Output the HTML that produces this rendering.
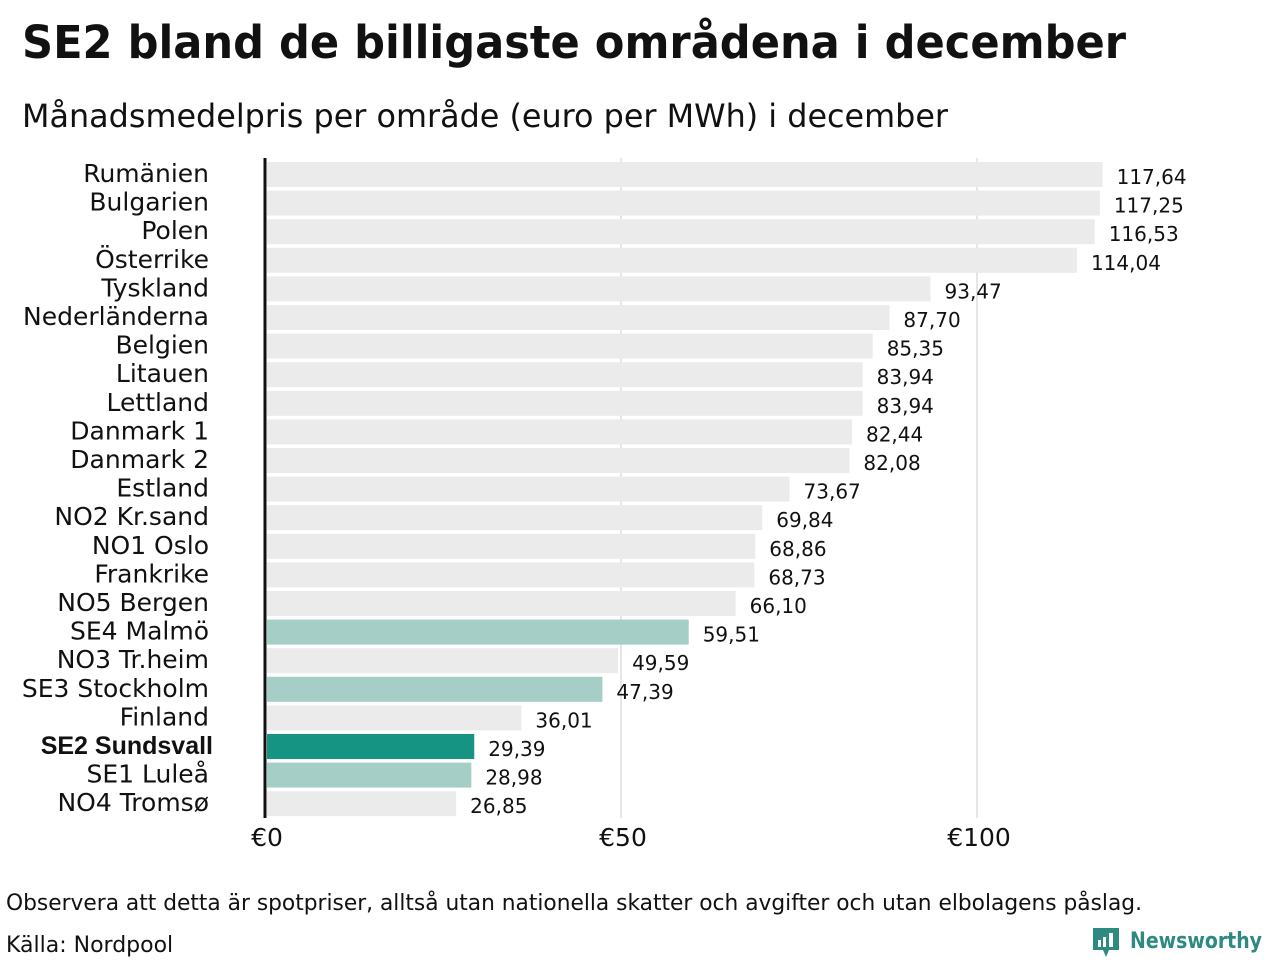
<!DOCTYPE html>
<html><head><meta charset="utf-8"><style>
body{margin:0;background:#fff;width:1280px;height:960px;overflow:hidden;font-family:"DejaVu Sans","Liberation Sans",sans-serif;}
</style></head><body>
<svg width="1280" height="960" xmlns="http://www.w3.org/2000/svg">
<text x="22" y="58" font-size="45" font-weight="bold" fill="#111" textLength="1104" lengthAdjust="spacingAndGlyphs" font-family="DejaVu Sans, sans-serif">SE2 bland de billigaste områdena i december</text>
<text x="22" y="127" font-size="32" fill="#111" textLength="926" lengthAdjust="spacingAndGlyphs">Månadsmedelpris per område (euro per MWh) i december</text>
<g id="grid"></g>
<g id="bars"></g>
<line x1="265" y1="158" x2="265" y2="818" stroke="#111" stroke-width="3"/>
<g id="ticks"></g>
<text x="6" y="910" font-size="22" fill="#111" textLength="1136" lengthAdjust="spacingAndGlyphs">Observera att detta är spotpriser, alltså utan nationella skatter och avgifter och utan elbolagens påslag.</text>
<text x="6" y="952" font-size="22" fill="#111">Källa: Nordpool</text>
<g>
<path d="M1093 928 h26 v22 h-10 l-3 7 l-3 -7 h-10 z" fill="#2e8a80"/>
<rect x="1098" y="940" width="3" height="7" fill="#fff"/><rect x="1103" y="937" width="3" height="10" fill="#fff"/><rect x="1109" y="933" width="4" height="14" fill="#fff"/>
<text x="1130" y="948" font-size="22" font-weight="bold" fill="#2e8a80" textLength="132" lengthAdjust="spacingAndGlyphs">Newsworthy</text>
</g>
</svg>
<script>
const categories=["Rumänien","Bulgarien","Polen","Österrike","Tyskland","Nederländerna","Belgien","Litauen","Lettland","Danmark 1","Danmark 2","Estland","NO2 Kr.sand","NO1 Oslo","Frankrike","NO5 Bergen","SE4 Malmö","NO3 Tr.heim","SE3 Stockholm","Finland","SE2 Sundsvall","SE1 Luleå","NO4 Tromsø"];
const values=[117.64,117.25,116.53,114.04,93.47,87.70,85.35,83.94,83.94,82.44,82.08,73.67,69.84,68.86,68.73,66.10,59.51,49.59,47.39,36.01,29.39,28.98,26.85];
const tickValues=[0,50,100];
const tickLabels=["€0","€50","€100"];
const NS="http://www.w3.org/2000/svg";
const x=v=>265+v*7.12;
const y=i=>162+i*28.6;
function mk(t,a,p){const e=document.createElementNS(NS,t);for(const k in a)e.setAttribute(k,a[k]);p.appendChild(e);return e;}
const grid=document.getElementById('grid'),bars=document.getElementById('bars'),ticks=document.getElementById('ticks');
tickValues.forEach((v,i)=>{
 if(v>0){const g=mk('line',{x1:x(v),x2:x(v),y1:158,y2:818,stroke:'#ccc','stroke-width':1},grid);
 
 }
 const t=mk('text',{x:x(v)+2,y:846,'font-size':25,'text-anchor':'middle',fill:'#111'},ticks);t.textContent=tickLabels[i];
 
 
});
categories.forEach((c,i)=>{
 const se=c.startsWith('SE'),main=c==='SE2 Sundsvall';
 const r=mk('rect',{x:267,y:y(i),width:x(values[i])-267,height:25,fill:main?'#159484':se?'#a5cfc6':'#ebebeb'},bars);
 
 
 const l=mk('text',{x:main?213:209,y:y(i)+20,'font-size':main?25:25,'text-anchor':'end',fill:'#111','font-weight':main?'bold':'normal','font-family':main?'Liberation Sans, sans-serif':'DejaVu Sans, sans-serif'},bars);
 l.textContent=c;
 
 
 const v=mk('text',{x:x(values[i])+14,y:y(i)+22,'font-size':20,fill:'#111'},bars);
 v.textContent=values[i].toFixed(2).replace('.',',');
 
 
});
</script>
</body></html>
